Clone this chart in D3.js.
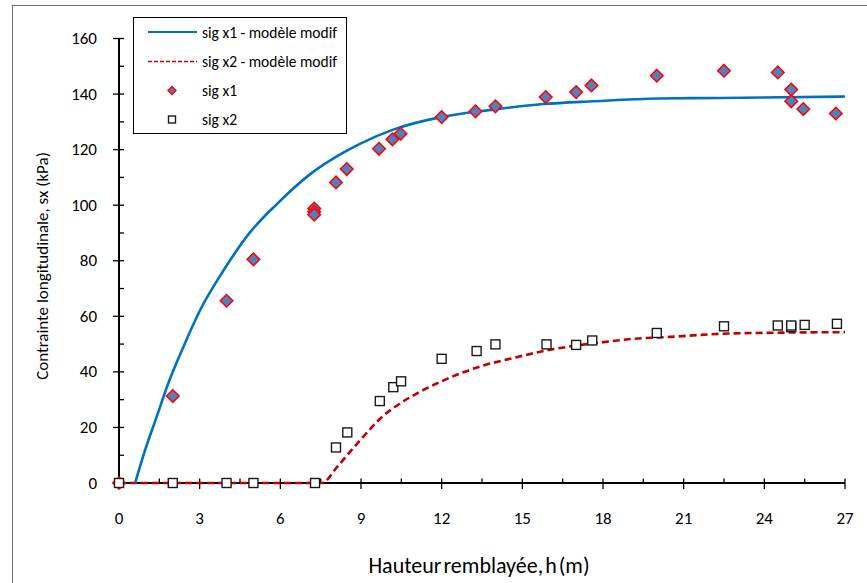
<!DOCTYPE html>
<html>
<head>
<meta charset="utf-8">
<script src="https://cdn.jsdelivr.net/npm/d3@7"></script>
<style>
  html, body { margin: 0; padding: 0; background: #fff; }
  svg { display: block; font-family: Carlito, Lato, "Open Sans", sans-serif; }
</style>
</head>
<body>
<svg id="chart" width="867" height="583"></svg>
<script>
// Measured points: backfill height h (m) vs longitudinal stress (kPa)
const sigX1H = [0, 2, 4, 5, 7.26, 7.26, 7.26, 8.07, 8.47, 9.67, 10.17, 10.47, 12, 13.26, 14, 15.87, 17, 17.57, 20, 22.5, 24.5, 25, 25, 25.45, 26.66];
const sigX1V = [0, 31.3, 65.6, 80.5, 98.8, 97.6, 96.6, 108.2, 113, 120.3, 123.7, 125.7, 131.7, 133.8, 135.6, 138.9, 140.7, 143.1, 146.6, 148.4, 147.8, 141.6, 137.4, 134.6, 133];

const sigX2H = [0, 2, 4, 5, 7.29, 8.07, 8.49, 9.7, 10.2, 10.49, 12, 13.3, 14, 15.9, 17, 17.6, 20, 22.5, 24.5, 25, 25, 25.5, 26.7];
const sigX2V = [0, 0, 0, 0, 0, 12.8, 18.2, 29.5, 34.5, 36.6, 44.7, 47.5, 49.9, 49.9, 49.7, 51.3, 54, 56.4, 56.7, 56.1, 56.7, 56.9, 57.3];

// Modified model curves
const modX1H = [0.6, 0.97, 1.4, 1.83, 2.39, 3.01, 3.88, 4.87, 5.86, 7.1, 8.34, 8.96, 10.2, 11.97, 13.92, 15.78, 17.64, 20.1, 22.35, 27];
const modX1V = [0, 11.8, 23.8, 35.8, 48.9, 62.1, 76.4, 90.2, 100.3, 111.1, 118.9, 122.1, 127.2, 131.7, 134.4, 136.4, 137.4, 138.4, 138.6, 139.1];

const modX2H = [0, 7.55, 8.1, 8.59, 9.08, 9.83, 10.45, 11.07, 11.81, 12.68, 13.55, 14.54, 15.9, 17.02, 18.01, 19.13, 20.5, 22.35, 24.5, 27];
const modX2V = [0, 0, 5.6, 11.2, 16.6, 24.2, 28.6, 32.2, 35.8, 39.4, 42.3, 44.7, 47.7, 49.5, 50.7, 51.9, 52.6, 53.7, 54.1, 54.3];

// Axis ticks
const xTicks = [0, 3, 6, 9, 12, 15, 18, 21, 24, 27];
const yTicks = [0, 20, 40, 60, 80, 100, 120, 140, 160];

const legendLabels = ["sig x1 - modèle modif", "sig x2 - modèle modif", "sig x1", "sig x2"];

const svg = d3.select("#chart");
const x = d3.scaleLinear().domain([0, 27]).range([119, 845]);
const y = d3.scaleLinear().domain([0, 160]).range([483, 38.5]);

const blue = "#0070C0", red = "#C00000";

// chart area frame
svg.append("rect")
  .attr("x", 12.5).attr("y", 5.5).attr("width", 870).attr("height", 600)
  .attr("fill", "#fff").attr("stroke", "#6b6b6b").attr("stroke-width", 1);

// axes: major ticks cross the line, minor ticks point into the plot
const g = svg.append("g");
const xMinor = d3.range(1.5, 27, 3);
const yMinor = d3.range(10, 160, 20);

g.selectAll(".xmaj").data(xTicks).join("line")
  .attr("x1", d => x(d)).attr("x2", d => x(d))
  .attr("y1", y(0) - 4.5).attr("y2", y(0) + 6)
  .attr("stroke", "#000").attr("stroke-width", 1.3);
g.selectAll(".xmin").data(xMinor).join("line")
  .attr("x1", d => x(d)).attr("x2", d => x(d))
  .attr("y1", y(0) - 4.5).attr("y2", y(0))
  .attr("stroke", "#000").attr("stroke-width", 1.3);
g.selectAll(".ymaj").data(yTicks).join("line")
  .attr("x1", x(0) - 6).attr("x2", x(0) + 5)
  .attr("y1", d => y(d)).attr("y2", d => y(d))
  .attr("stroke", "#000").attr("stroke-width", 1.3);
g.selectAll(".ymin").data(yMinor).join("line")
  .attr("x1", x(0)).attr("x2", x(0) + 5)
  .attr("y1", d => y(d)).attr("y2", d => y(d))
  .attr("stroke", "#000").attr("stroke-width", 1.3);

g.append("line").attr("x1", x(0)).attr("x2", x(27)).attr("y1", y(0)).attr("y2", y(0))
  .attr("stroke", "#000").attr("stroke-width", 2);
g.append("line").attr("x1", x(0)).attr("x2", x(0)).attr("y1", y(0)).attr("y2", y(160))
  .attr("stroke", "#000").attr("stroke-width", 2);

g.selectAll(".xl").data(xTicks).join("text")
  .attr("x", d => x(d)).attr("y", 518)
  .attr("text-anchor", "middle").attr("dominant-baseline", "central")
  .attr("font-size", 17).attr("fill", "#000").text(d => d);
g.selectAll(".yl").data(yTicks).join("text")
  .attr("x", 97).attr("y", d => y(d))
  .attr("text-anchor", "end").attr("dominant-baseline", "central")
  .attr("font-size", 17).attr("fill", "#000").text(d => d);

svg.append("text")
  .attr("x", 479).attr("y", 565)
  .attr("text-anchor", "middle").attr("dominant-baseline", "central")
  .attr("font-size", 22).attr("word-spacing", -3).attr("fill", "#000")
  .text("Hauteur remblayée, h (m)");
svg.append("text")
  .attr("transform", "translate(42,266) rotate(-90)")
  .attr("text-anchor", "middle").attr("dominant-baseline", "central")
  .attr("font-size", 17).attr("fill", "#000")
  .text("Contrainte longitudinale, sx (kPa)");

// model curves
const line = d3.line().x(d => x(d[0])).y(d => y(d[1])).curve(d3.curveMonotoneX);
svg.append("path").datum(d3.zip(modX2H, modX2V)).attr("d", line)
  .attr("fill", "none").attr("stroke", red).attr("stroke-width", 2.6).attr("stroke-dasharray", "7,4");
svg.append("path").datum(d3.zip(modX1H, modX1V)).attr("d", line)
  .attr("fill", "none").attr("stroke", blue).attr("stroke-width", 2.6);

// markers
const diamond = s => `M0,${-s}L${s},0L0,${s}L${-s},0Z`;
svg.selectAll(".d1").data(d3.zip(sigX1H, sigX1V)).join("path")
  .attr("transform", d => `translate(${x(d[0])},${y(d[1])})`)
  .attr("d", diamond(6.3))
  .attr("fill", "#4F81BD").attr("stroke", "#FF0000").attr("stroke-width", 1.5);
svg.selectAll(".s2").data(d3.zip(sigX2H, sigX2V)).join("rect")
  .attr("x", d => x(d[0]) - 4.5).attr("y", d => y(d[1]) - 4.5)
  .attr("width", 9).attr("height", 9)
  .attr("fill", "#fff").attr("stroke", "#1a1a1a").attr("stroke-width", 1.4);

// legend
const lg = svg.append("g");
lg.append("rect").attr("x", 133.5).attr("y", 17.5).attr("width", 213).attr("height", 116)
  .attr("fill", "#fff").attr("stroke", "#000").attr("stroke-width", 1);
const rowY = [32, 61.5, 90.5, 119.5];
lg.append("line").attr("x1", 148).attr("x2", 197).attr("y1", rowY[0]).attr("y2", rowY[0])
  .attr("stroke", blue).attr("stroke-width", 2);
lg.append("line").attr("x1", 148).attr("x2", 197).attr("y1", rowY[1]).attr("y2", rowY[1])
  .attr("stroke", red).attr("stroke-width", 1.6).attr("stroke-dasharray", "4,2");
lg.append("path").attr("transform", `translate(172,${rowY[2]})`).attr("d", diamond(4))
  .attr("fill", "#4F81BD").attr("stroke", "#FF0000").attr("stroke-width", 1.4);
lg.append("rect").attr("x", 168.5).attr("y", rowY[3] - 3.5).attr("width", 7).attr("height", 7)
  .attr("fill", "#fff").attr("stroke", "#1a1a1a").attr("stroke-width", 1.4);
lg.selectAll(".lt").data(legendLabels).join("text")
  .attr("x", 202).attr("y", (d, i) => rowY[i])
  .attr("dominant-baseline", "central").attr("font-size", 15.5).attr("fill", "#000")
  .text(d => d);
</script>
</body>
</html>
